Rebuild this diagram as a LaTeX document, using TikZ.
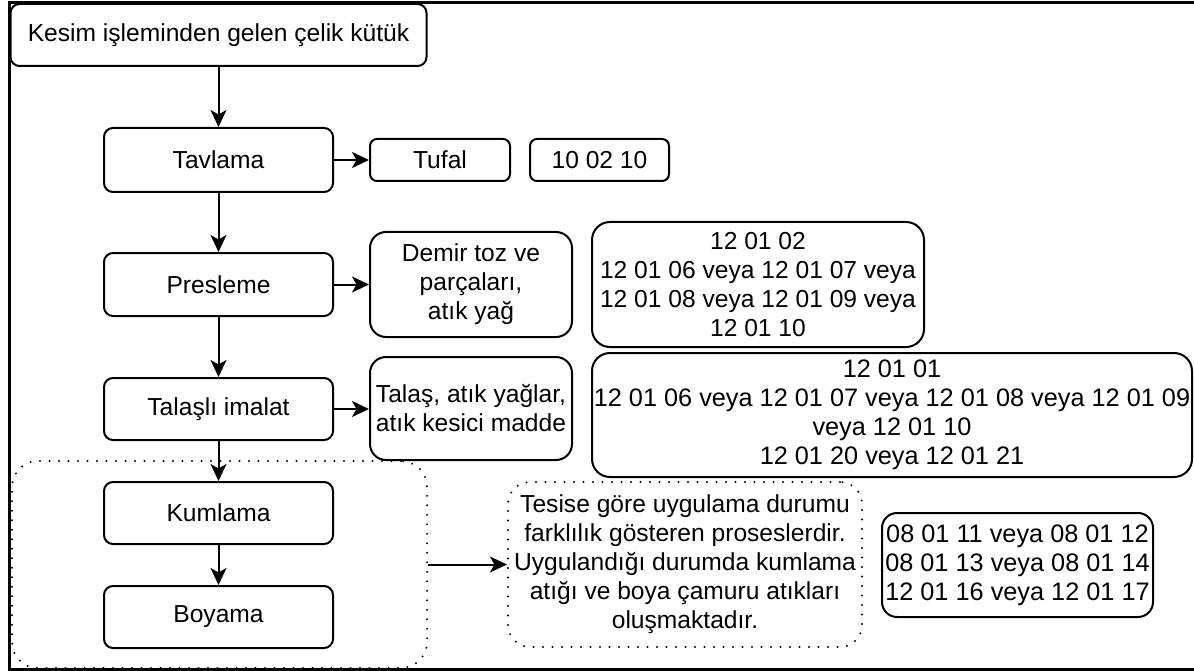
\documentclass[tikz,border=0pt]{standalone}
\usepackage{fontspec}
\setmainfont{Liberation Sans}
\usetikzlibrary{arrows.meta}
\newcommand\mainfs{\fontsize{24.6}{29}\selectfont}
\newcommand\codefs{\fontsize{25.3}{29}\selectfont}
\tikzset{
  boxstyle/.style={draw, line width=2, align=center, inner sep=0pt, font=\mainfs, text=black},
  dotbox/.style={draw, line width=2.2, line cap=round, dash pattern=on 0pt off 9.5pt, align=center, inner sep=0pt, font=\mainfs},
  arr/.style={-{Stealth[length=17pt, width=16pt, inset=4.5pt]}, line width=2},
}
\begin{document}
\begin{tikzpicture}[x=1pt, y=-1pt]
\useasboundingbox (0,0) rectangle (1194,671);
% outer frame (right side cut off)
\draw[line width=2.5] (1194,2.5) -- (9.5,2.5) -- (9.5,669.5) -- (1194,669.5);

% main process column
\node[boxstyle, rounded corners=9, minimum width=416, minimum height=62] (kesim) at (218.5,35) {Kesim işleminden gelen çelik kütük};
\node[boxstyle, rounded corners=9, minimum width=229, minimum height=64] (tav) at (218.5,160) {Tavlama};
\node[boxstyle, rounded corners=9, minimum width=229, minimum height=63] (pres) at (218.5,284.5) {Presleme};
\node[boxstyle, rounded corners=9, minimum width=229, minimum height=62] (tal) at (218.5,409) {Talaşlı imalat};
\node[boxstyle, rounded corners=9, minimum width=229, minimum height=62] (kum) at (218.5,513) {Kumlama};
\node[boxstyle, rounded corners=9, minimum width=229, minimum height=62] (boy) at (218.5,617) {Boyama};

% dotted group
\node[dotbox, rounded corners=26, minimum width=415, minimum height=207] (grp) at (219.5,564.5) {};

% waste boxes
\node[boxstyle, rounded corners=7, minimum width=140, minimum height=42] (tufal) at (440,160) {Tufal};
\node[boxstyle, rounded corners=7, minimum width=139, minimum height=42] (c1) at (599.5,160) {10 02 10};
\node[boxstyle, rounded corners=16, minimum width=202, minimum height=105] (demir) at (471,284.5) {Demir toz ve\\parçaları,\\atık yağ};
\node[boxstyle, rounded corners=18, minimum width=332, minimum height=125] (c2) at (758,284.5) {12 01 02\\12 01 06 veya 12 01 07 veya\\12 01 08 veya 12 01 09 veya\\12 01 10};
\node[boxstyle, rounded corners=16, minimum width=202, minimum height=103] (talas) at (471,408.5) {Talaş, atık yağlar,\\atık kesici madde};
\node[boxstyle, font=\codefs, rounded corners=18, minimum width=600, minimum height=124] (c3) at (892,415) {12 01 01\\12 01 06 veya 12 01 07 veya 12 01 08 veya 12 01 09\\veya 12 01 10\\12 01 20 veya 12 01 21};
\node[dotbox, rounded corners=22, minimum width=354, minimum height=165] (note) at (685,564.5) {Tesise göre uygulama durumu\\farklılık gösteren proseslerdir.\\Uygulandığı durumda kumlama\\atığı ve boya çamuru atıkları\\oluşmaktadır.};
\node[boxstyle, font=\codefs, rounded corners=15, minimum width=271, minimum height=104] (c4) at (1017.5,565) {08 01 11 veya 08 01 12\\08 01 13 veya 08 01 14\\12 01 16 veya 12 01 17};

% connectors
\draw[arr] (kesim) -- (tav);
\draw[arr] (tav) -- (pres);
\draw[arr] (pres) -- (tal);
\draw[arr] (tal) -- (kum);
\draw[arr] (kum) -- (boy);
\draw[arr] (tav) -- (tufal);
\draw[arr] (pres) -- (demir);
\draw[arr] (tal.east) -- (talas.west |- tal.east);
\draw[arr] (grp) -- (note);
\end{tikzpicture}
\end{document}
